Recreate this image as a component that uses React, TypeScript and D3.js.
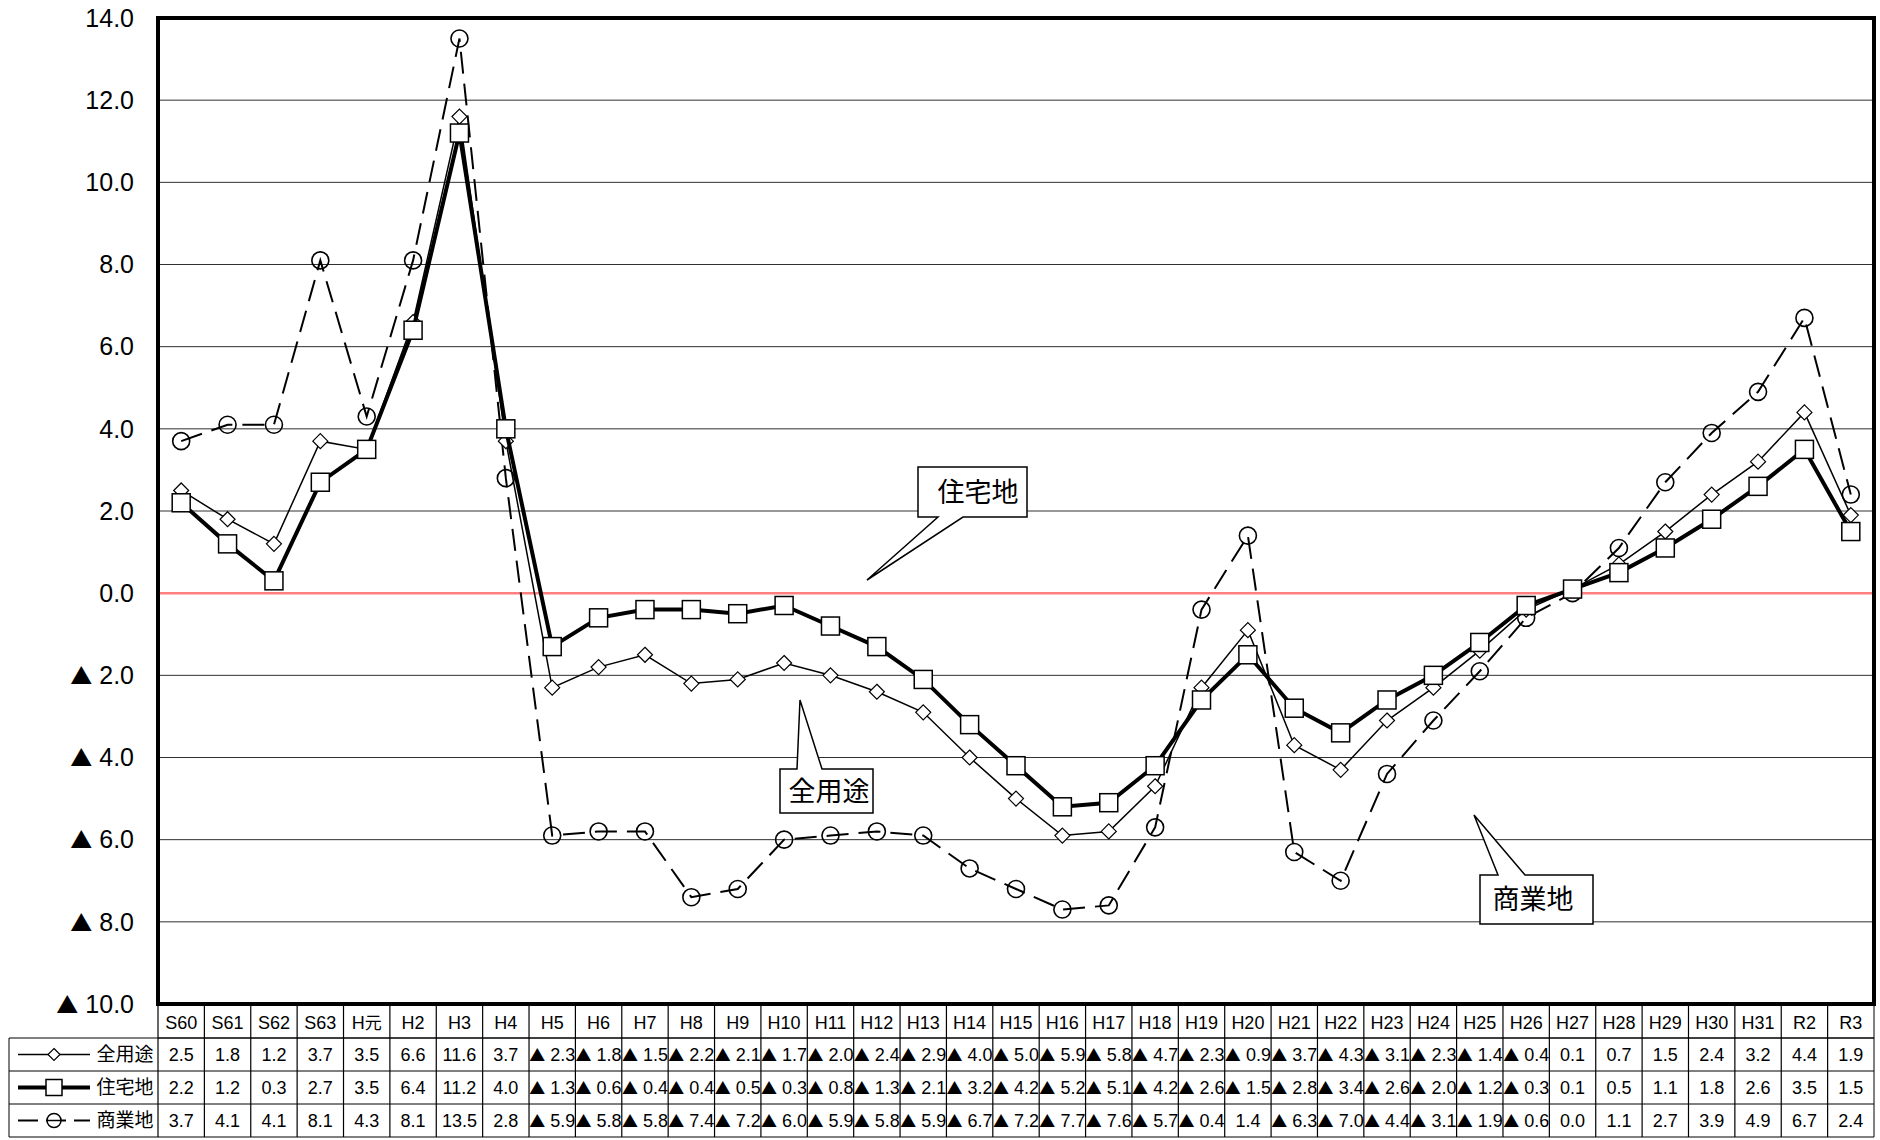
import React from "react";
import * as d3 from "d3";

const categories = ["S60","S61","S62","S63","H元","H2","H3","H4","H5","H6","H7","H8","H9","H10","H11","H12","H13","H14","H15","H16","H17","H18","H19","H20","H21","H22","H23","H24","H25","H26","H27","H28","H29","H30","H31","R2","R3"];
const allUse = [2.5,1.8,1.2,3.7,3.5,6.6,11.6,3.7,-2.3,-1.8,-1.5,-2.2,-2.1,-1.7,-2.0,-2.4,-2.9,-4.0,-5.0,-5.9,-5.8,-4.7,-2.3,-0.9,-3.7,-4.3,-3.1,-2.3,-1.4,-0.4,0.1,0.7,1.5,2.4,3.2,4.4,1.9];
const residential = [2.2,1.2,0.3,2.7,3.5,6.4,11.2,4.0,-1.3,-0.6,-0.4,-0.4,-0.5,-0.3,-0.8,-1.3,-2.1,-3.2,-4.2,-5.2,-5.1,-4.2,-2.6,-1.5,-2.8,-3.4,-2.6,-2.0,-1.2,-0.3,0.1,0.5,1.1,1.8,2.6,3.5,1.5];
const commercial = [3.7,4.1,4.1,8.1,4.3,8.1,13.5,2.8,-5.9,-5.8,-5.8,-7.4,-7.2,-6.0,-5.9,-5.8,-5.9,-6.7,-7.2,-7.7,-7.6,-5.7,-0.4,1.4,-6.3,-7.0,-4.4,-3.1,-1.9,-0.6,0.0,1.1,2.7,3.9,4.9,6.7,2.4];
const seriesNames = ["全用途","住宅地","商業地"];
const yTicks = [14,12,10,8,6,4,2,0,-2,-4,-6,-8,-10];

const W = 1880, H = 1140;
const L = 158, R = 1874, T = 18, B = 1004;
const NUM_FONT = "'Liberation Sans Narrow', 'Arial Narrow', 'Liberation Sans', Arial, sans-serif";
const JP_FONT = "'Noto Sans CJK JP', sans-serif";

const fmt = (v: number) => (v < 0 ? "▲ " + Math.abs(v).toFixed(1) : v.toFixed(1));

export default function App() {
  const x = d3.scaleBand<string>().domain(categories).range([L, R]).padding(0);
  const y = d3.scaleLinear().domain([-10, 14]).range([B, T]);
  const cx = (i: number) => (x(categories[i]) as number) + x.bandwidth() / 2;
  const line = d3.line<number>().x((_, i) => cx(i)).y((v) => y(v));

  const rowTop = [1004, 1038, 1071, 1104, 1137];
  const tableLeft = 9;
  const dataSets = [allUse, residential, commercial];

  const diamond = (px: number, py: number, s: number) =>
    `M${px},${py - s}L${px + s},${py}L${px},${py + s}L${px - s},${py}Z`;

  const legendSample = (r: number) => {
    const yy = (rowTop[r + 1] + rowTop[r + 2]) / 2;
    const mx = 54;
    if (r === 0)
      return (
        <g key="l0">
          <line x1={18} x2={90} y1={yy} y2={yy} stroke="#000" strokeWidth={1.5} />
          <path d={diamond(mx, yy, 6)} fill="#fff" stroke="#000" strokeWidth={1.2} />
        </g>
      );
    if (r === 1)
      return (
        <g key="l1">
          <line x1={18} x2={90} y1={yy} y2={yy} stroke="#000" strokeWidth={4} />
          <rect x={mx - 8} y={yy - 8} width={16} height={16} fill="#fff" stroke="#000" strokeWidth={1.5} />
        </g>
      );
    return (
      <g key="l2">
        <line x1={18} x2={90} y1={yy} y2={yy} stroke="#000" strokeWidth={2} strokeDasharray="20,8" />
        <circle cx={mx} cy={yy} r={7} fill="#fff" stroke="#000" strokeWidth={1.5} />
        <line x1={mx - 7} x2={mx + 7} y1={yy} y2={yy} stroke="#000" strokeWidth={1.5} />
      </g>
    );
  };

  return (
    <div style={{ position: "absolute", left: 0, top: 0 }}>
      <svg width={W} height={H} style={{ display: "block", background: "#fff" }}>
        <rect x={0} y={0} width={W} height={H} fill="#fff" />
        {/* gridlines */}
        {yTicks.filter((t) => t !== 0 && t !== 14 && t !== -10).map((t) => (
          <line key={"g" + t} x1={L} x2={R} y1={y(t)} y2={y(t)} stroke="#303030" strokeWidth={1} />
        ))}
        <line x1={L} x2={R} y1={y(0)} y2={y(0)} stroke="#ff8080" strokeWidth={2.5} />

        {/* y labels */}
        {yTicks.map((t) => (
          <text key={"yl" + t} x={134} y={y(t)} dy="0.35em" textAnchor="end" fontFamily={NUM_FONT} fontSize={25} fill="#000">
            {t < 0 ? (
              <>
                <tspan fontFamily={JP_FONT} fontSize={22}>▲</tspan>
                <tspan> {Math.abs(t).toFixed(1)}</tspan>
              </>
            ) : (
              t.toFixed(1)
            )}
          </text>
        ))}

        {/* commercial */}
        <path d={line(commercial) as string} fill="none" stroke="#000" strokeWidth={2} strokeDasharray="22,10" />
        {commercial.map((v, i) => (
          <circle key={"c" + i} cx={cx(i)} cy={y(v)} r={8.5} fill="none" stroke="#000" strokeWidth={1.6} />
        ))}
        {/* all use */}
        <path d={line(allUse) as string} fill="none" stroke="#000" strokeWidth={1.5} />
        {allUse.map((v, i) => (
          <path key={"d" + i} d={diamond(cx(i), y(v), 7.5)} fill="#fff" stroke="#000" strokeWidth={1.2} />
        ))}
        {/* residential */}
        <path d={line(residential) as string} fill="none" stroke="#000" strokeWidth={4} />
        {residential.map((v, i) => (
          <rect key={"s" + i} x={cx(i) - 9} y={y(v) - 9} width={18} height={18} fill="#fff" stroke="#000" strokeWidth={1.5} />
        ))}

        {/* callouts */}
        <g fontFamily={JP_FONT} fontSize={27} fill="#000">
          <path d="M918,467H1027V517H963L867,580L938,517H918Z" fill="#fff" stroke="#000" strokeWidth={1.5} />
          <text x={978} y={493} dy="0.35em" textAnchor="middle">{seriesNames[1]}</text>
          <path d="M780,769H797L800,700L822,769H873V813H780Z" fill="#fff" stroke="#000" strokeWidth={1.5} />
          <text x={829} y={792} dy="0.35em" textAnchor="middle">{seriesNames[0]}</text>
          <path d="M1480,875H1498L1474,815L1525,875H1593V924H1480Z" fill="#fff" stroke="#000" strokeWidth={1.5} />
          <text x={1533} y={900} dy="0.35em" textAnchor="middle">{seriesNames[2]}</text>
        </g>

        {/* plot frame */}
        <rect x={L} y={T} width={R - L} height={B - T} fill="none" stroke="#000" strokeWidth={4} />

        {/* table */}
        <g>
          {/* horizontal lines */}
          <line x1={L} x2={R} y1={rowTop[1]} y2={rowTop[1]} stroke="#000" strokeWidth={1} />
          <line x1={tableLeft} x2={R} y1={rowTop[1]} y2={rowTop[1]} stroke="#000" strokeWidth={1} />
          <line x1={tableLeft} x2={R} y1={rowTop[2]} y2={rowTop[2]} stroke="#000" strokeWidth={1} />
          <line x1={tableLeft} x2={R} y1={rowTop[3]} y2={rowTop[3]} stroke="#000" strokeWidth={1} />
          <line x1={tableLeft} x2={R} y1={rowTop[4]} y2={rowTop[4]} stroke="#000" strokeWidth={1} />
          <line x1={tableLeft} x2={tableLeft} y1={rowTop[1]} y2={rowTop[4]} stroke="#000" strokeWidth={1} />
          <line x1={R} x2={R} y1={rowTop[0]} y2={rowTop[4]} stroke="#000" strokeWidth={1} />
          {categories.map((c, i) => (
            <line key={"v" + i} x1={x(c) as number} x2={x(c) as number} y1={rowTop[0]} y2={rowTop[4]} stroke="#000" strokeWidth={1.2} />
          ))}
          {categories.map((c, i) => (
            <text key={"h" + i} x={cx(i)} y={(rowTop[0] + rowTop[1]) / 2 + 2} dy="0.35em" textAnchor="middle" fontFamily={NUM_FONT} fontSize={18}>
              {c.includes("元") ? (
                <>
                  <tspan>H</tspan>
                  <tspan fontFamily={JP_FONT} fontSize={17}>元</tspan>
                </>
              ) : (
                c
              )}
            </text>
          ))}
          {dataSets.map((ds, r) =>
            ds.map((v, i) => (
              <text key={"t" + r + "_" + i} x={cx(i)} y={(rowTop[r + 1] + rowTop[r + 2]) / 2} dy="0.35em" textAnchor="middle" fontFamily={NUM_FONT} fontSize={18}>
                {v < 0 ? (
                  <>
                    <tspan fontFamily={JP_FONT} fontSize={16}>▲</tspan>
                    <tspan> {Math.abs(v).toFixed(1)}</tspan>
                  </>
                ) : (
                  fmt(v)
                )}
              </text>
            ))
          )}
          {seriesNames.map((n, r) => (
            <text key={"n" + r} x={125} y={(rowTop[r + 1] + rowTop[r + 2]) / 2} dy="0.35em" textAnchor="middle" fontFamily={JP_FONT} fontSize={19}>
              {n}
            </text>
          ))}
          {[0, 1, 2].map((r) => legendSample(r))}
        </g>
      </svg>
    </div>
  );
}
